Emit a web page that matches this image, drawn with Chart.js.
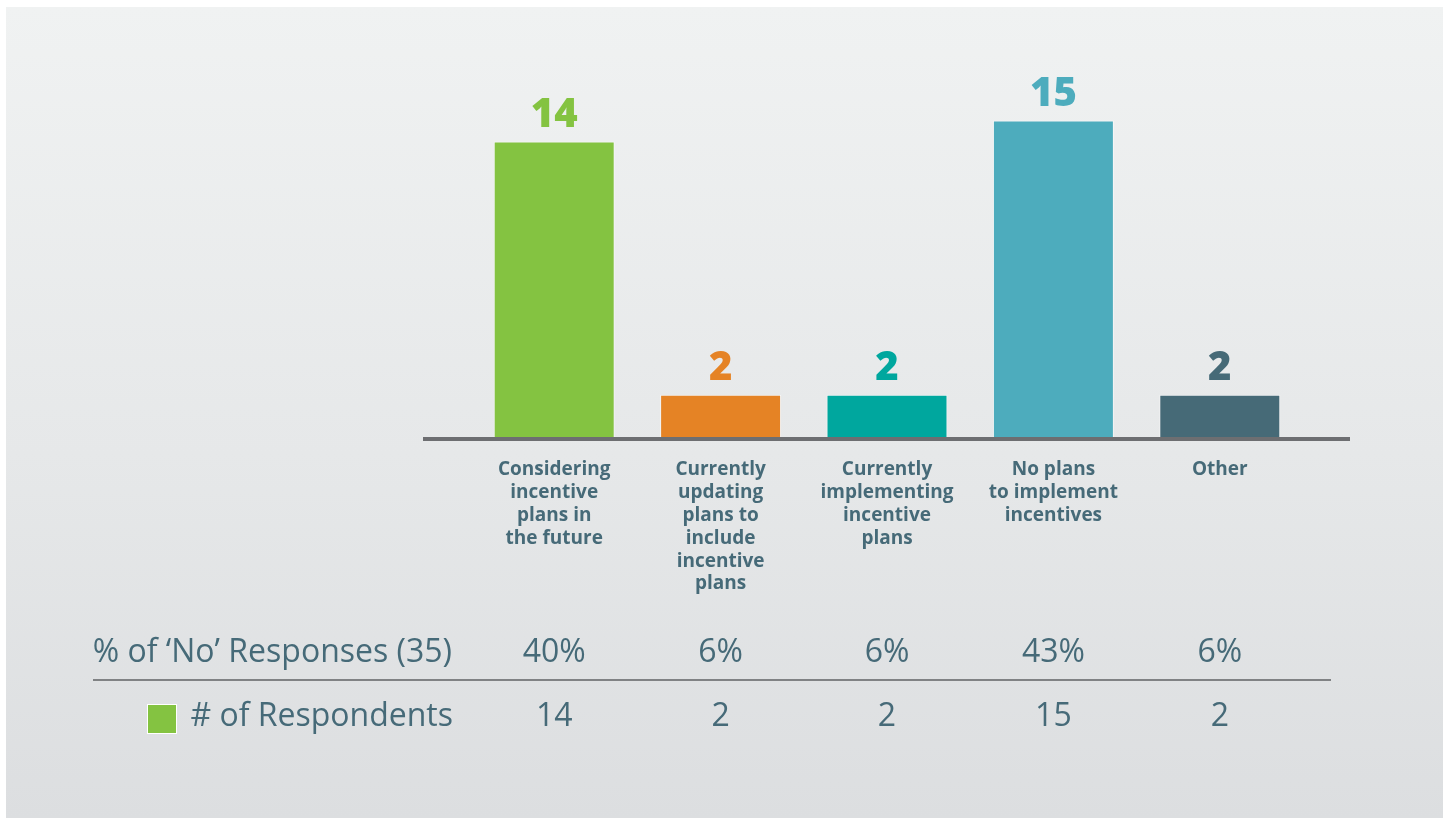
<!DOCTYPE html>
<html>
<head>
<meta charset="utf-8">
<script src="https://cdn.jsdelivr.net/npm/chart.js@4/dist/chart.umd.min.js"></script>
<style>
  html, body { margin: 0; padding: 0; background: #ffffff; width: 1449px; height: 824px; overflow: hidden; }
  #panel { position: absolute; left: 6px; top: 7px; width: 1437px; height: 811px;
           background: linear-gradient(to bottom, #f0f2f2 0%, #e6e8e9 55%, #dcdee0 100%); }
  #wrap { position: absolute; left: 0; top: 0; width: 1449px; height: 824px; }
</style>
</head>
<body>
<div id="panel"></div>
<div id="wrap"><canvas id="c" width="1449" height="824"></canvas></div>
<script>
// ---- data ----
const categories = [
  ["Considering", "incentive", "plans in", "the future"],
  ["Currently", "updating", "plans to", "include", "incentive", "plans"],
  ["Currently", "implementing", "incentive", "plans"],
  ["No plans", "to implement", "incentives"],
  ["Other"]
];
const respondents = [14, 2, 2, 15, 2];
const percentNo = [40, 6, 6, 43, 6];
const barColors = ["#84c341", "#e58325", "#00a79e", "#4dacbd", "#466a77"];
const rowLabelPercent = "% of \u2018No\u2019 Responses (35)";
const rowLabelCount = "# of Respondents";

const TEXT = "#466a78";
const FONT = "'Open Sans', 'Noto Sans', sans-serif";

const overlay = {
  id: 'overlay',
  afterDatasetsDraw(chart) {
    const ctx = chart.ctx;
    const xs = chart.scales.x;
    const ys = chart.scales.y;
    const meta = chart.getDatasetMeta(0);
    const base = ys.getPixelForValue(0);
    ctx.save();
    // baseline axis
    ctx.fillStyle = "#6d6e71";
    ctx.fillRect(423, base, 1350 - 423, 4);
    // value labels above bars
    ctx.textAlign = "center";
    ctx.textBaseline = "alphabetic";
    ctx.font = "800 40px " + FONT;
    meta.data.forEach((bar, i) => {
      ctx.fillStyle = barColors[i];
      ctx.fillText(String(respondents[i]), bar.x, bar.y - 15);
    });
    // category labels
    ctx.font = "700 19px " + FONT;
    ctx.fillStyle = TEXT;
    ctx.textBaseline = "middle";
    categories.forEach((lines, i) => {
      const x = xs.getPixelForValue(i);
      lines.forEach((ln, j) => ctx.fillText(ln, x, base + 33 + j * 22.8));
    });
    // table
    const row1 = 653, row2 = 717;
    ctx.font = "400 32px " + FONT;
    ctx.textAlign = "right";
    ctx.fillText(rowLabelPercent, 452, row1);
    ctx.fillText(rowLabelCount, 453, row2);
    ctx.textAlign = "center";
    for (let i = 0; i < respondents.length; i++) {
      const x = xs.getPixelForValue(i);
      ctx.fillText(percentNo[i] + "%", x, row1);
      ctx.fillText(String(respondents[i]), x, row2);
    }
    // divider
    ctx.fillStyle = "#808284";
    ctx.fillRect(93, 679, 1331 - 93, 2);
    // legend swatch
    ctx.fillStyle = "#ffffff";
    ctx.fillRect(147, 704, 30, 30);
    ctx.fillStyle = barColors[0];
    ctx.fillRect(148, 705, 28, 28);
    ctx.restore();
  }
};

new Chart(document.getElementById('c'), {
  type: 'bar',
  data: {
    labels: categories.map(c => c.join(" ")),
    datasets: [{
      label: rowLabelCount,
      data: respondents,
      backgroundColor: barColors,
      borderColor: "rgba(255,255,255,0.55)",
      borderWidth: { top: 1, left: 1, right: 1, bottom: 0 },
      borderSkipped: 'bottom',
      barPercentage: 0.727,
      categoryPercentage: 1.0
    }]
  },
  options: {
    responsive: false,
    animation: false,
    devicePixelRatio: 1,
    layout: { padding: { left: 471, right: 146, top: 15, bottom: 387 } },
    plugins: { legend: { display: false }, tooltip: { enabled: false } },
    scales: {
      x: { display: false },
      y: { display: false, min: 0, max: 20 }
    }
  },
  plugins: [overlay]
});
</script>
</body>
</html>
